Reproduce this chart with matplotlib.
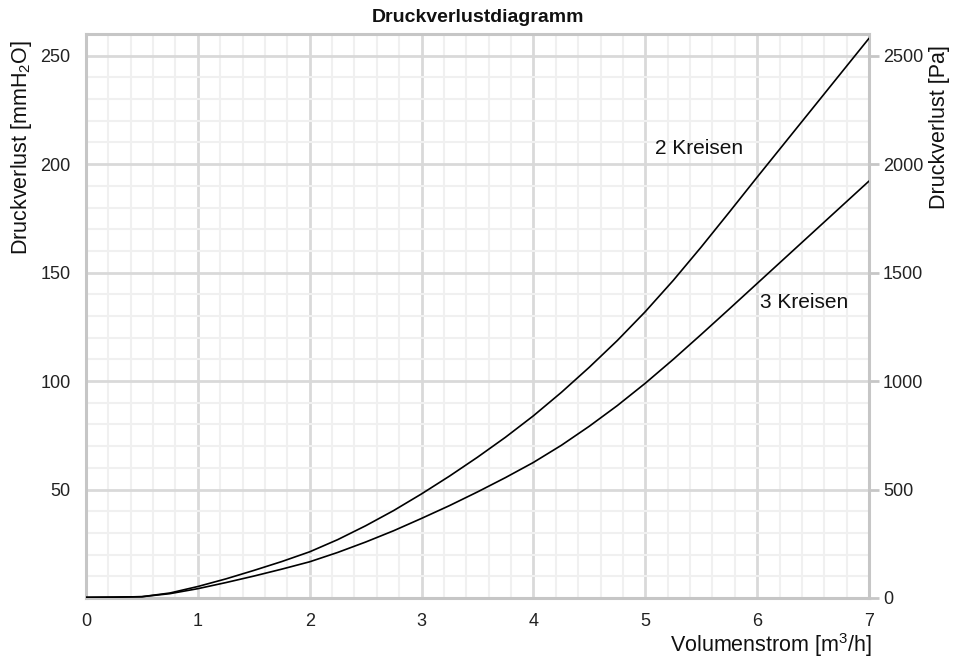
import matplotlib
matplotlib.use("Agg")
import matplotlib.pyplot as plt
from matplotlib.ticker import MultipleLocator

plt.rcParams['font.family'] = ['Liberation Sans', 'DejaVu Sans']
plt.rcParams['mathtext.fontset'] = 'custom'
plt.rcParams['mathtext.rm'] = 'Liberation Sans'
plt.rcParams['mathtext.it'] = 'Liberation Sans:italic'

# Volume flow [m3/h] and pressure loss [mmH2O]
flow = [0, 0.25, 0.5, 0.75, 1, 1.25, 1.5, 1.75, 2, 2.25, 2.5, 2.75, 3, 3.25,
        3.5, 3.75, 4, 4.25, 4.5, 4.75, 5, 5.25, 5.5, 5.75, 6, 6.25, 6.5, 6.75, 7]
loss_2_circuits = [0.3, 0.4, 0.6, 2.3, 5.3, 8.8, 12.7, 16.8, 21.3, 26.9, 33.3,
                   40.3, 48.0, 56.2, 64.9, 74.1, 84.0, 94.8, 106.4, 118.7, 132.0,
                   146.4, 161.8, 177.8, 194.0, 210, 226, 242, 258]
loss_3_circuits = [0.3, 0.4, 0.6, 2.0, 4.3, 7.1, 10.1, 13.3, 16.7, 21.0, 25.8,
                   31.0, 36.7, 42.6, 48.9, 55.5, 62.5, 70.4, 79.2, 88.7, 99.0,
                   110.0, 121.5, 133.2, 145.0, 156.8, 168.6, 180.4, 192.2]

x_ticks = [0, 1, 2, 3, 4, 5, 6, 7]
left_ticks = [50, 100, 150, 200, 250]
right_ticks = [0, 500, 1000, 1500, 2000, 2500]

W, H = 963, 658
fig = plt.figure(figsize=(W / 100, H / 100), dpi=100)
ax = fig.add_axes([86 / W, 60 / H, (869 - 86) / W, (598 - 34) / H])

ax.set_xlim(0, 7)
ax.set_ylim(0, 260)

ax.xaxis.set_minor_locator(MultipleLocator(0.2))
ax.yaxis.set_minor_locator(MultipleLocator(10))
ax.set_xticks(x_ticks)
ax.set_yticks(left_ticks)

ax.grid(which='minor', color='#f0f0f0', linewidth=1.5, zorder=0)
ax.grid(which='major', color='#d9d9d9', linewidth=2.0, zorder=0)
ax.set_axisbelow(True)

for s in ax.spines.values():
    s.set_color('#c6c6c6')
    s.set_linewidth(2.2)

ax.tick_params(which='both', length=0)
ax.tick_params(axis='x', pad=11, labelsize=13, colors='#222222')
ax.tick_params(axis='y', pad=11, labelsize=13, colors='#222222')

line_style = dict(color='black', linewidth=1.2, zorder=3,
                  solid_joinstyle='round', solid_capstyle='round')
ax.plot(flow, loss_2_circuits, **line_style)
ax.plot(flow, loss_3_circuits, **line_style)

ax.text(5.09, 207.4, '2 Kreisen', fontsize=15, va='center', ha='left', color='#111111')
ax.text(6.03, 136.3, '3 Kreisen', fontsize=15, va='center', ha='left', color='#111111')

# Secondary pressure axis in Pa
ax2 = ax.twinx()
ax2.set_ylim(0, 2600)
ax2.set_yticks(right_ticks)
ax2.tick_params(axis='y', length=7, width=2, color='#c6c6c6', pad=3,
                labelsize=13, labelcolor='#222222')
for s in ax2.spines.values():
    s.set_visible(False)

fig.text(477.5 / W, 1 - 18 / H, 'Druckverlustdiagramm', ha='center', va='center',
         fontsize=14, fontweight='bold', color='#111111')
fig.text(22 / W, 1 - 40 / H, 'Druckverlust [mmH$_2$O]', rotation=90,
         ha='center', va='top', fontsize=15.5, color='#111111')
fig.text(939 / W, 1 - 45 / H, 'Druckverlust [Pa]', rotation=90,
         ha='center', va='top', fontsize=15.5, color='#111111')
fig.text(872 / W, 1 - 645 / H, 'Volumenstrom [m$^3$/h]', ha='right', va='center',
         fontsize=15.5, color='#111111')

fig.savefig('out.png', dpi=100)
